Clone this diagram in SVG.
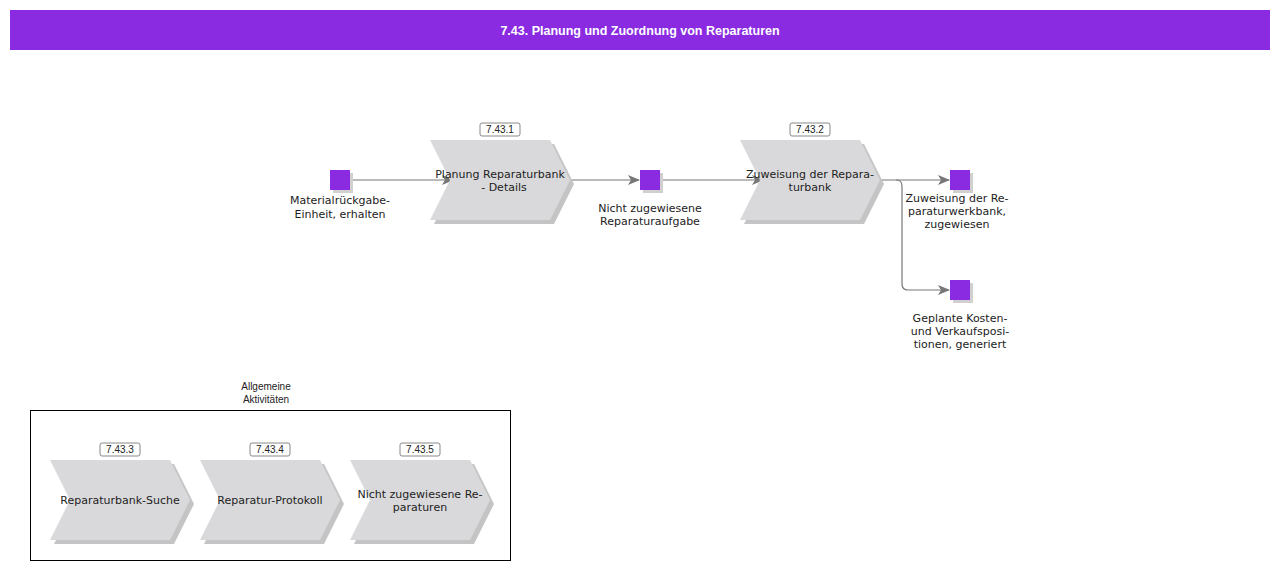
<svg xmlns="http://www.w3.org/2000/svg" width="1280" height="570" viewBox="0 0 1280 570">
<style>
text{font-family:"DejaVu Sans",sans-serif;font-size:11px;fill:#222;text-anchor:middle}
.fn{fill:#d9d9db}
.sh{fill:#c4c4c4}
.ev{fill:#8a2be2}
.evs{fill:#d0d0d0}
.id{fill:#fff;stroke:#888;stroke-width:1}
.idt{font-family:"Liberation Sans",sans-serif;font-size:10px}
.c{fill:none;stroke:#777;stroke-width:1.2}
</style>
<defs>
<marker id="a" markerWidth="12" markerHeight="10" refX="11" refY="5" orient="auto" markerUnits="userSpaceOnUse"><path d="M0,0 L12,5 L0,10 L3,5 Z" fill="#777"/></marker>
<path id="chev" d="M0,0 H120 L140,40 L120,80 H0 L20,40 Z"/>
</defs>
<rect x="10" y="10" width="1260" height="40" fill="#8a2be2"/>
<text x="640" y="35" style="fill:#fff;font-size:12.5px;font-weight:bold;font-family:'Liberation Sans',sans-serif">7.43. Planung und Zuordnung von Reparaturen</text>
<g id="connectors">
<path class="c" d="M350,180 H453" marker-end="url(#a)"/>
<path class="c" d="M570,180 H639" marker-end="url(#a)"/>
<path class="c" d="M660,180 H763" marker-end="url(#a)"/>
<path class="c" d="M880,180 H949" marker-end="url(#a)"/>
<path class="c" d="M896,180 Q902,180 902,186 V284 Q902,290 908,290 H949" marker-end="url(#a)"/>
</g>
<g id="e1"><rect x="333" y="173" width="20" height="20" class="evs"/><rect x="330" y="170" width="20" height="20" class="ev"/><text x="340" y="204">Materialrückgabe-</text><text x="340" y="218">Einheit, erhalten</text></g>
<g id="f1"><use href="#chev" x="434" y="144" class="sh"/><use href="#chev" x="430" y="140" class="fn"/><rect x="480" y="123" width="40" height="13" rx="2" class="id"/><text x="500" y="133" class="idt">7.43.1</text><text x="500" y="178">Planung Reparaturbank</text><text x="504" y="191">- Details</text></g>
<g id="e2"><rect x="643" y="173" width="20" height="20" class="evs"/><rect x="640" y="170" width="20" height="20" class="ev"/><text x="650" y="212">Nicht zugewiesene</text><text x="650" y="225">Reparaturaufgabe</text></g>
<g id="f2"><use href="#chev" x="744" y="144" class="sh"/><use href="#chev" x="740" y="140" class="fn"/><rect x="790" y="123" width="40" height="13" rx="2" class="id"/><text x="810" y="133" class="idt">7.43.2</text><text x="810" y="178">Zuweisung der Repara-</text><text x="810" y="191">turbank</text></g>
<g id="e3"><rect x="953" y="173" width="20" height="20" class="evs"/><rect x="950" y="170" width="20" height="20" class="ev"/><text x="957" y="202">Zuweisung der Re-</text><text x="957" y="215">paraturwerkbank,</text><text x="957" y="228">zugewiesen</text></g>
<g id="e4"><rect x="953" y="283" width="20" height="20" class="evs"/><rect x="950" y="280" width="20" height="20" class="ev"/><text x="960" y="322">Geplante Kosten-</text><text x="960" y="335">und Verkaufsposi-</text><text x="960" y="348">tionen, generiert</text></g>
<g id="group"><text x="266" y="390" style="font-family:'Liberation Sans',sans-serif;font-size:10px">Allgemeine</text><text x="266" y="403" style="font-family:'Liberation Sans',sans-serif;font-size:10px">Aktivitäten</text><rect x="30.5" y="410.5" width="480" height="150" fill="none" stroke="#000"/></g>
<g id="f3"><use href="#chev" x="54" y="464" class="sh"/><use href="#chev" x="50" y="460" class="fn"/><rect x="100" y="443" width="40" height="13" rx="2" class="id"/><text x="120" y="453" class="idt">7.43.3</text><text x="120" y="504">Reparaturbank-Suche</text></g>
<g id="f4"><use href="#chev" x="204" y="464" class="sh"/><use href="#chev" x="200" y="460" class="fn"/><rect x="250" y="443" width="40" height="13" rx="2" class="id"/><text x="270" y="453" class="idt">7.43.4</text><text x="270" y="504">Reparatur-Protokoll</text></g>
<g id="f5"><use href="#chev" x="354" y="464" class="sh"/><use href="#chev" x="350" y="460" class="fn"/><rect x="400" y="443" width="40" height="13" rx="2" class="id"/><text x="420" y="453" class="idt">7.43.5</text><text x="420" y="498">Nicht zugewiesene Re-</text><text x="420" y="511">paraturen</text></g>
</svg>
